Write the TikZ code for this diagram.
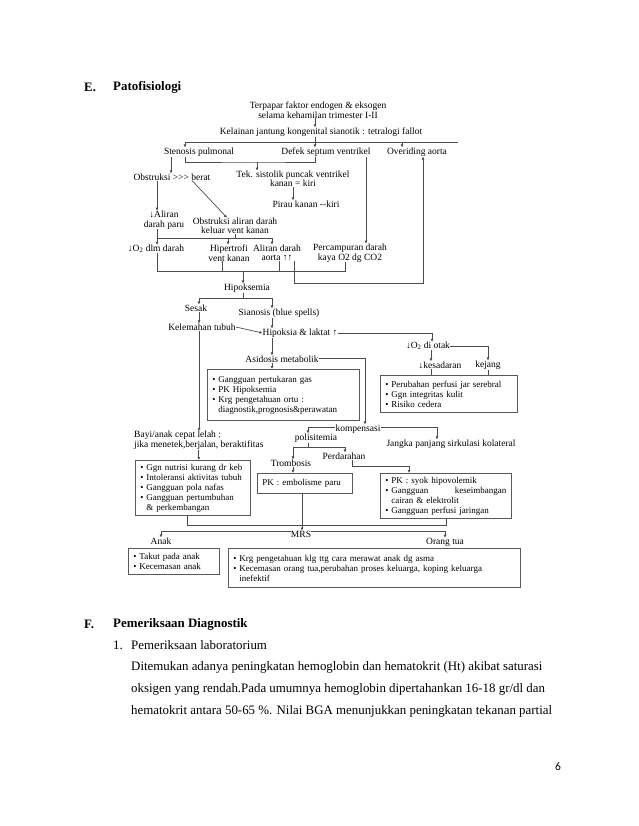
\documentclass[tikz,border=0pt]{standalone}
\usepackage{fontspec}
\setmainfont{Liberation Serif}
\newfontfamily\calibri{Carlito}
\usetikzlibrary{arrows.meta}

\tikzset{
  tx/.style={font=\fontsize{9.5}{9.5}\selectfont, inner sep=0pt, align=center},
  kotak/.style={draw=black!65, line width=0.9pt, font=\fontsize{9}{10}\selectfont,
    align=left, inner xsep=4pt, inner ysep=2pt, anchor=north west},
  garis/.style={draw=black!70, line width=0.7pt},
  panah/.style={garis, -{Latex[length=3pt,width=3pt]}},
  isi/.style={font=\fontsize{12.9}{15}\selectfont, inner sep=0pt, anchor=west},
  tebal/.style={isi, font=\bfseries\fontsize{12.9}{15}\selectfont},
}
\newcommand{\butir}{\makebox[6pt][l]{\textbullet}}
\newcommand{\lanjut}{\hspace*{6pt}}

\begin{document}
\begin{tikzpicture}[x=1pt, y=-1pt]
  \fill[white] (0,0) rectangle (638,826);
  \useasboundingbox (0,0) rectangle (638,826);
  % judul
  \node[tebal] (hurufE) at (84,87) {E.};
  \node[tebal] (judulE) at (113,87) {Patofisiologi};
  % bagan: teks
  \node[tx] (terpapar) at (318,110) {Terpapar faktor endogen \& eksogen\\selama kehamilan trimester I-II};
  \node[tx] (kelainan) at (321,132) {Kelainan jantung kongenital sianotik : tetralogi fallot};
  \node[tx] (stenosis) at (199,152) {Stenosis pulmonal};
  \node[tx] (defek) at (326,152) {Defek septum ventrikel};
  \node[tx] (overiding) at (417,152) {Overiding aorta};
  \node[tx] (obstruksi) at (172,177) {Obstruksi >{}>{}> berat};
  \node[tx] (tek) at (293,179) {Tek. sistolik puncak ventrikel\\kanan = kiri};
  \node[tx] (pirau) at (306,204) {Pirau kanan -{}-kiri};
  \node[tx] (aliranparu) at (164,220) {↓Aliran\\darah paru};
  \node[tx] (obskeluar) at (235,226) {Obstruksi aliran darah\\keluar vent kanan};
  \node[tx] (o2darah) at (156,249) {↓O\textsubscript{2} dlm darah};
  \node[tx] (hipertrofi) at (229,253) {Hipertrofi\\vent kanan};
  \node[tx] (aliranaorta) at (277,253) {Aliran darah\\aorta ↑↑};
  \node[tx] (percampuran) at (350,253) {Percampuran darah\\kaya O2 dg CO2};
  \node[tx] (hipoksemia) at (247,288) {Hipoksemia};
  \node[tx] (sesak) at (196,308) {Sesak};
  \node[tx] (sianosis) at (279,313) {Sianosis (blue spells)};
  \node[tx] (kelemahan) at (202,327) {Kelemahan tubuh};
  \node[tx] (hipoksia) at (300,333) {Hipoksia \& laktat ↑};
  \node[tx] (o2otak) at (428,346) {↓O\textsubscript{2} di otak};
  \node[tx] (asidosis) at (282,359) {Asidosis metabolik};
  \node[tx] (kesadaran) at (440,365) {↓kesadaran};
  \node[tx] (kejang) at (488,365) {kejang};
  \node[tx] (kompensasi) at (358,429) {kompensasi};
  \node[tx] (polisitemia) at (316,438) {polisitemia};
  \node[tx] (jangka) at (451,444) {Jangka panjang sirkulasi kolateral};
  \node[tx, align=left, anchor=north west] (bayi) at (134,431) {Bayi/anak cepat lelah :\\jika menetek,berjalan, beraktifitas};
  \node[tx] (trombosis) at (291,463) {Trombosis};
  \node[tx] (perdarahan) at (344,456) {Perdarahan};
  \node[tx] (mrs) at (301,534) {MRS};
  \node[tx] (anak) at (161,541) {Anak};
  \node[tx] (orangtua) at (445,542) {Orang tua};
  % bagan: kotak
  \node[kotak, minimum width=152, minimum height=51, text width=142] (kotakgas) at (207,369)
    {\butir Gangguan pertukaran gas\\\butir PK Hipoksemia\\\butir Krg pengetahuan ortu :\\\lanjut diagnostik,prognosis\&perawatan};
  \node[kotak, minimum width=137, minimum height=37, text width=127] (kotakotak) at (380,375)
    {\butir Perubahan perfusi jar serebral\\\butir Ggn integritas kulit\\\butir Risiko cedera};
  \node[kotak, minimum width=115, minimum height=55, text width=105] (kotakbayi) at (135,460)
    {\butir Ggn nutrisi kurang dr keb\\\butir Intoleransi aktivitas tubuh\\\butir Gangguan pola nafas\\\butir Gangguan pertumbuhan\\\lanjut \& perkembangan};
  \node[kotak, minimum width=95, minimum height=20, text width=85] (kotakemboli) at (257,473)
    {PK : embolisme paru};
  \node[kotak, minimum width=131, minimum height=45, text width=121] (kotaksyok) at (380,473)
    {\butir PK : syok hipovolemik\\\butir Gangguan\hfill keseimbangan\\\lanjut cairan \& elektrolit\\\butir Gangguan perfusi jaringan};
  \node[kotak, minimum width=91, minimum height=26, text width=81] (kotakanak) at (128,548)
    {\butir Takut pada anak\\\butir Kecemasan anak};
  \node[kotak, minimum width=292, minimum height=39, text width=282] (kotakortu) at (228,548)
    {\butir Krg pengetahuan klg ttg cara merawat anak dg asma\\\butir Kecemasan orang tua,perubahan proses keluarga, koping keluarga\\\lanjut inefektif};
  % cabang atas
  \coordinate (ka) at (185,142);
  \coordinate (kb) at (458,142);
  \coordinate (kc) at (315,142);
  \coordinate (kd) at (402,142);
  \draw[garis] (ka) -- (kb);
  \draw[panah] (terpapar.south -| kc) -- (kelainan.north -| kc);
  \draw[garis] (kelainan.south -| kc) -- (kc);
  \draw[panah] (ka) -- (stenosis.north -| ka);
  \draw[panah] (kc) -- (defek.north -| kc);
  \draw[panah] (kd) -- (overiding.north -| kd);
  \coordinate (kurung) at (257,162);
  \draw[garis] (stenosis.south -| ka) |- (kurung) -| (defek.south -| kc);
  \draw[panah] (kurung) -- (tek.north -| kurung);
  \draw[panah] ([xshift=-28]stenosis.south) -- ([xshift=-28]stenosis.south |- obstruksi.north);
  \draw[panah] ([xshift=40]defek.south) -- ([xshift=40]defek.south |- percampuran.north);
  \draw[panah] (tek.south) -- (tek.south |- pirau.north);
  \draw[panah] ([xshift=-15]obstruksi.south) -- ([xshift=-15]obstruksi.south |- aliranparu.north);
  \draw[panah] ([xshift=20]obstruksi.south) -- ([xshift=-8]obskeluar.north);
  % cabang tengah
  \coordinate (la) at (157,238);
  \coordinate (lb) at (272,238);
  \coordinate (lc) at (228,238);
  \draw[garis] (aliranparu.south -| la) -- (la) -- (lb);
  \draw[garis] (obskeluar.south) -- (obskeluar.south |- la);
  \draw[panah] (la) -- (o2darah.north -| la);
  \draw[panah] (lc) -- (hipertrofi.north -| lc);
  \draw[panah] (lb) -- (aliranaorta.north -| lb);
  \coordinate (ma) at (157,271);
  \coordinate (mb) at (345,271);
  \coordinate (mc) at (243,271);
  \coordinate (md) at (222,271);
  \coordinate (me) at (279,271);
  \draw[garis] (o2darah.south -| ma) -- (ma) -- (mb) -- (percampuran.south -| mb);
  \draw[garis] (hipertrofi.south -| md) -- (md);
  \draw[garis] (aliranaorta.south -| me) -- (me);
  \draw[panah] (mc) -- (hipoksemia.north -| mc);
  \coordinate (na) at (294,283);
  \coordinate (nb) at (423,283);
  \draw[panah] (aliranaorta.south -| na) -- (na) -- (nb) -- (overiding.south -| nb);
  % hipoksemia ke bawah
  \coordinate (pa) at (199,298);
  \coordinate (pb) at (272,298);
  \draw[garis] (hipoksemia.south -| mc) -- (mc |- pa);
  \draw[garis] (pa) -- (pb);
  \draw[panah] (pa) -- (sesak.north -| pa);
  \draw[panah] (pb) -- (sianosis.north -| pb);
  \draw[panah] (sesak.south -| pa) -- (kelemahan.north -| pa);
  \draw[panah] (kelemahan.south -| pa) -- (bayi.north -| pa);
  \draw[panah] (kelemahan.east) -- (hipoksia.west);
  \draw[panah] (sianosis.south -| pb) -- (hipoksia.north -| pb);
  \draw[panah] (hipoksia.east) -| ([xshift=4]o2otak.north);
  \draw[panah] (hipoksia.south -| pb) -- (asidosis.north -| pb);
  \draw[panah] (asidosis.south -| pb) -- (kotakgas.north -| pb);
  \draw[panah] ([yshift=1]asidosis.east) -| ([xshift=7]kompensasi.north);
  \draw[panah] ([xshift=3]o2otak.south) -- ([xshift=3]o2otak.south |- kesadaran.north);
  \draw[panah] (o2otak.east) -| (kejang.north);
  \draw[garis] ([xshift=-9]kesadaran.south) -- ([xshift=-9]kesadaran.south |- kotakotak.north);
  \draw[garis] (kejang.south) -- (kejang.south |- kotakotak.north);
  % kompensasi
  \draw[panah] ([yshift=2]kompensasi.west) -| ([xshift=-8]polisitemia.north);
  \draw[panah] ([yshift=2]kompensasi.east) -| ([xshift=-14]jangka.north);
  \coordinate (qa) at (293,447);
  \coordinate (qb) at (345,447);
  \draw[garis] ([xshift=-8]polisitemia.south) -- ([xshift=-8]polisitemia.south |- qa);
  \draw[garis] (qa) -- (qb);
  \draw[panah] (qa) -- (trombosis.north -| qa);
  \draw[panah] (qb) -- (perdarahan.north -| qb);
  \draw[panah] (bayi.south) -- (bayi.south |- kotakbayi.north);
  \draw[panah] (trombosis.south -| qa) -- (kotakemboli.north -| qa);
  \coordinate (ra) at (352,466);
  \coordinate (rb) at (409,466);
  \draw[panah] (perdarahan.south -| ra) -- (ra) -- (rb) -- (kotaksyok.north -| rb);
  % MRS
  \coordinate (sa) at (187,525);
  \coordinate (sb) at (446,525);
  \coordinate (sc) at (302,525);
  \draw[garis] (kotakbayi.south -| sa) -- (sa) -- (sb) -- (kotaksyok.south -| sb);
  \draw[panah] (kotakemboli.south -| sc) -- (mrs.north -| sc);
  \draw[panah] ([yshift=3]mrs.west) -| (anak.north);
  \draw[panah] ([yshift=3]mrs.east) -| (orangtua.north);
  % teks bawah
  \node[tebal] (hurufF) at (84,624) {F.};
  \node[tebal] (judulF) at (113,624) {Pemeriksaan Diagnostik};
  \node[isi] (nomor1) at (113,645) {1.};
  \node[isi] (sub1) at (131,645) {Pemeriksaan laboratorium};
  \node[isi] (baris1) at (131,667) {Ditemukan adanya peningkatan hemoglobin dan hematokrit (Ht) akibat saturasi};
  \node[isi] (baris2) at (131,689) {oksigen yang rendah.Pada umumnya hemoglobin dipertahankan 16-18 gr/dl dan};
  \node[isi] (baris3) at (131,711) {hematokrit antara 50-65 \%. Nilai BGA menunjukkan peningkatan tekanan partial};
  \node[font=\calibri\fontsize{11.5}{13}\selectfont, inner sep=0pt] (halaman) at (558,767) {6};
\end{tikzpicture}
\end{document}
